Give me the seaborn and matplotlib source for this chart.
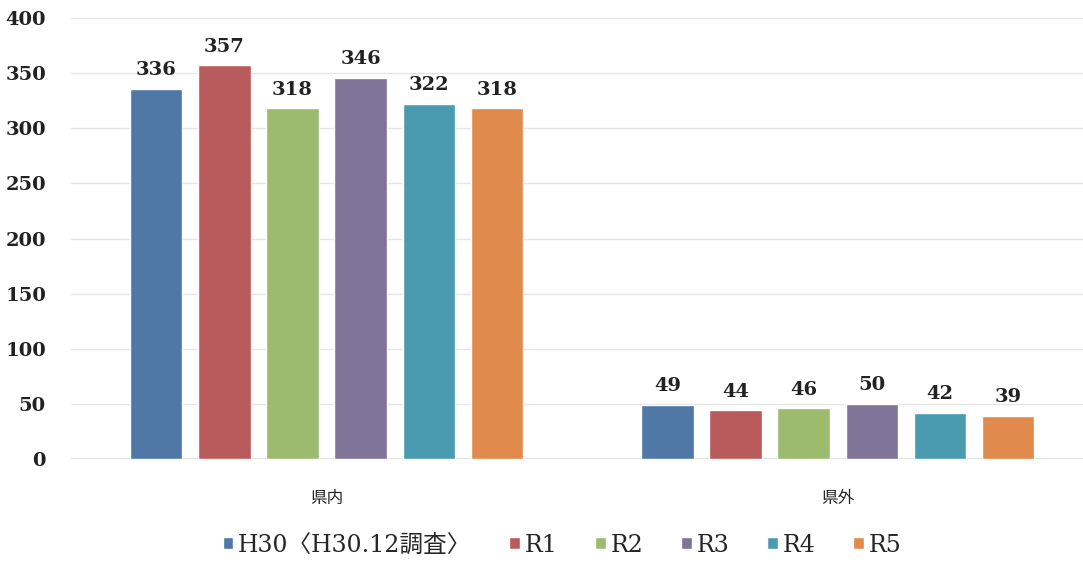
import numpy as np
import pandas as pd
import seaborn as sns
import matplotlib
matplotlib.use("Agg")
from matplotlib import pyplot as plt

categories = ["県内", "県外"]
years = ["H30〈H30.12調査〉", "R1", "R2", "R3", "R4", "R5"]
kennai = [336, 357, 318, 346, 322, 318]
kengai = [49, 44, 46, 50, 42, 39]
colors = ["#4f78a6", "#b95a5c", "#9cbb6f", "#7f7398", "#4a9bb0", "#e08a4e"]

sns.set_theme(style="white")
serif = ["DejaVu Serif", "Noto Sans CJK JP"]
plt.rcParams["font.family"] = ["DejaVu Sans", "Noto Sans CJK JP"]

rows = []
for cat, vals in zip(categories, [kennai, kengai]):
    for y, v in zip(years, vals):
        rows.append({"cat": cat, "year": y, "value": v})
df = pd.DataFrame(rows)

fig = plt.figure(figsize=(10.83, 5.64), dpi=100)
ax = fig.add_axes([71 / 1083, 1 - 459 / 564, 1 - 71 / 1083, (459 - 18) / 564])

sns.barplot(data=df, x="cat", y="value", hue="year", hue_order=years,
            palette=colors, width=0.8, gap=0.23, ax=ax, legend=True,
            saturation=1)

for c in ax.containers:
    ax.bar_label(c, padding=7, fontsize=14, fontweight="bold",
                 family=serif, color="#222222")

ax.set_ylim(0, 400)
ax.set_xlim(-0.5, 1.48)
ax.set_yticks(np.arange(0, 401, 50))
ax.yaxis.grid(True, color="#e6e6e6", linewidth=1)
ax.set_axisbelow(True)
for s in ax.spines.values():
    s.set_visible(False)
ax.axhline(0, color="#d9d9d9", linewidth=1.2, zorder=0)
ax.tick_params(axis="y", length=0, pad=18)
ax.tick_params(axis="x", length=0, pad=22)
for t in ax.get_yticklabels():
    t.set_family(serif)
    t.set_fontsize(14)
    t.set_fontweight("bold")
    t.set_color("#222222")
for t in ax.get_xticklabels():
    t.set_fontsize(12)
    t.set_family(["Noto Sans CJK JP", "DejaVu Sans"])
    t.set_color("#222222")
ax.set_xlabel("")
ax.set_ylabel("")

h, l = ax.get_legend_handles_labels()
ax.get_legend().remove()
fig.legend(h, l, loc="center", bbox_to_anchor=(562 / 1083, 1 - 545 / 564),
           ncol=6, frameon=False, prop={"family": serif, "size": 17},
           handlelength=0.45, handleheight=0.45, handletextpad=0.2,
           columnspacing=1.6)

fig.savefig("out.png", dpi=100)
